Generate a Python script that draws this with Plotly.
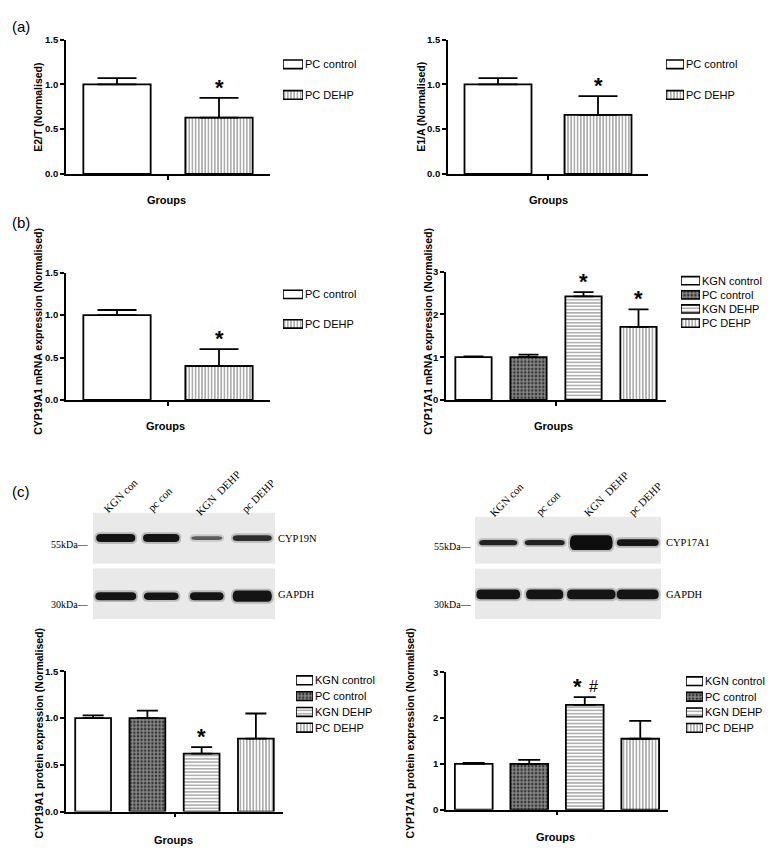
import plotly.graph_objects as go

W, H = 775, 855


def fx(px):
    return px / W


def fy(py):
    return 1 - py / H


# ---------------- data ----------------
groups2 = ["PC control", "PC DEHP"]
groups4 = ["KGN control", "PC control", "KGN DEHP", "PC DEHP"]

e2t_mean = [1.00, 0.63]
e2t_sem = [0.07, 0.22]
e2t_marks = ["", "*"]

e1a_mean = [1.00, 0.66]
e1a_sem = [0.07, 0.21]
e1a_marks = ["", "*"]

cyp19_mrna_mean = [1.00, 0.40]
cyp19_mrna_sem = [0.06, 0.20]
cyp19_mrna_marks = ["", "*"]

cyp17_mrna_mean = [1.00, 1.00, 2.42, 1.71]
cyp17_mrna_sem = [0.02, 0.06, 0.10, 0.41]
cyp17_mrna_marks = ["", "", "*", "*"]

cyp19_prot_mean = [1.00, 1.00, 0.62, 0.78]
cyp19_prot_sem = [0.03, 0.08, 0.07, 0.27]
cyp19_prot_marks = ["", "", "*", ""]

cyp17_prot_mean = [1.00, 1.00, 2.29, 1.55]
cyp17_prot_sem = [0.02, 0.09, 0.17, 0.39]
cyp17_prot_marks = ["", "", "*#", ""]

y_ticks_15 = [0.0, 0.5, 1.0, 1.5]
y_ticks_3 = [0, 1, 2, 3]

# western blot lanes and band appearance
blot_lanes = [1, 2, 3, 4]
lane_labels = ["KGN con", "pc con", "KGN  DEHP", "pc DEHP"]
cyp19n_halfwidth = [0.43, 0.40, 0.34, 0.43]
cyp19n_thickness = [0.15, 0.15, 0.07, 0.11]
cyp19n_shade = ["#141414", "#141414", "#5c5c5c", "#2c2c2c"]
gapdh_l_halfwidth = [0.45, 0.38, 0.37, 0.43]
gapdh_l_thickness = [0.15, 0.14, 0.15, 0.21]
cyp17_halfwidth = [0.41, 0.43, 0.46, 0.45]
cyp17_thickness = [0.10, 0.10, 0.29, 0.135]
cyp17_shade = ["#222222", "#222222", "#0e0e0e", "#161616"]
gapdh_r_halfwidth = [0.47, 0.40, 0.52, 0.45]
gapdh_r_thickness = [0.19, 0.19, 0.19, 0.19]

# ---------------- styles ----------------
FONT = "Arial, Liberation Sans, sans-serif"
SERIF = "Times New Roman, Liberation Serif, serif"

PAT = {
    "open": dict(shape="", fg="black", bg="white", size=4, sol=0.3),
    "check": dict(shape=".", fg="white", bg="#111111", size=3.6, sol=0.72),
    "hline": dict(shape="-", fg="black", bg="white", size=3.3, sol=0.42),
    "vline": dict(shape="|", fg="black", bg="white", size=3.2, sol=0.45),
}
styles2 = ["open", "vline"]
styles4 = ["open", "check", "hline", "vline"]


def marker_for(styles, lw=1.8):
    return dict(
        color=[PAT[s]["bg"] for s in styles],
        line=dict(color="black", width=lw),
        pattern=dict(
            shape=[PAT[s]["shape"] for s in styles],
            fgcolor=[PAT[s]["fg"] for s in styles],
            size=[PAT[s]["size"] for s in styles],
            solidity=[PAT[s]["sol"] for s in styles],
            fillmode="overlay",
        ),
    )


fig = go.Figure()
layout = dict(
    width=W, height=H, margin=dict(l=0, r=0, t=0, b=0),
    paper_bgcolor="white", plot_bgcolor="white", showlegend=False,
)
annotations = []
shapes = []
counter = [0]


def new_ax():
    counter[0] += 1
    return counter[0]


def ann(text, x, y, size, xanchor="center", yanchor="middle", angle=0,
        family=FONT, bold=False, **kw):
    annotations.append(dict(
        text=text, x=fx(x), y=fy(y), xref="paper", yref="paper",
        xanchor=xanchor, yanchor=yanchor, textangle=angle, showarrow=False,
        font=dict(family=family, size=size, color="black",
                  weight="bold" if bold else "normal"), **kw))


def add_bar_panel(cats, styles, mean, sem, marks, xd, yd, ymax, ticks, fmt,
                  bw, capw, title, title_xy, groups_xy, leg_xd, leg_yd, leg_thick):
    k = new_ax()
    n = len(cats)
    xs = list(range(n))
    fig.add_trace(go.Bar(
        x=xs, y=mean, width=bw, marker=marker_for(styles),
        error_y=dict(type="data", array=sem, arrayminus=[0] * n, symmetric=False,
                     color="black", thickness=1.8, width=capw),
        xaxis=f"x{k}", yaxis=f"y{k}", hoverinfo="skip", showlegend=False,
    ))
    layout[f"xaxis{k}"] = dict(
        domain=[fx(xd[0]), fx(xd[1])], anchor=f"y{k}", range=[-0.5, n - 0.5],
        showline=True, linecolor="black", linewidth=1.6, ticks="outside",
        tickvals=[(n - 1) / 2], ticktext=[""], ticklen=4, tickwidth=1.5,
        tickcolor="black", showgrid=False, zeroline=False, fixedrange=True)
    layout[f"yaxis{k}"] = dict(
        domain=[fy(yd[1]), fy(yd[0])], anchor=f"x{k}", range=[0, ymax],
        showline=True, linecolor="black", linewidth=1.6, ticks="outside",
        tickvals=ticks, tickformat=fmt, ticklen=4, tickwidth=1.5,
        tickcolor="black", showgrid=False, zeroline=False, fixedrange=True,
        tickfont=dict(family=FONT, size=9.5, color="black", weight="bold"))
    for i, m in enumerate(marks):
        if not m:
            continue
        top = mean[i] + sem[i]
        base = dict(xref=f"x{k}", yref=f"y{k}", y=top, showarrow=False,
                    yanchor="bottom", xanchor="center")
        if m == "*":
            annotations.append(dict(base, x=xs[i], text="*", yshift=-4,
                                    font=dict(family=FONT, size=22, color="black",
                                              weight="bold")))
        else:
            annotations.append(dict(base, x=xs[i], text="*", yshift=-4, xshift=-7,
                                    font=dict(family=FONT, size=22, color="black",
                                              weight="bold")))
            annotations.append(dict(base, x=xs[i], text="#", yshift=0, xshift=9,
                                    font=dict(family=FONT, size=16, color="black")))
    ann(title, title_xy[0], title_xy[1], 10.5, angle=-90, bold=True)
    ann("Groups", groups_xy[0], groups_xy[1], 11, bold=True)

    # legend drawn as a tiny patterned bar subplot
    j = new_ax()
    fig.add_trace(go.Bar(
        y=cats, x=[1] * n, orientation="h", width=leg_thick,
        marker=marker_for(styles, lw=1.6),
        xaxis=f"x{j}", yaxis=f"y{j}",
        hoverinfo="skip", showlegend=False))
    layout[f"xaxis{j}"] = dict(domain=[fx(leg_xd[0]), fx(leg_xd[1])], anchor=f"y{j}",
                               range=[0, 1], visible=False, fixedrange=True)
    layout[f"yaxis{j}"] = dict(domain=[fy(leg_yd[1]), fy(leg_yd[0])], anchor=f"x{j}",
                               type="category", autorange="reversed", side="right",
                               showline=False, ticks="", showgrid=False,
                               zeroline=False, fixedrange=True, ticklabelstandoff=1,
                               tickfont=dict(family=FONT, size=11, color="black"))


add_bar_panel(groups2, styles2, e2t_mean, e2t_sem, e2t_marks,
              (58, 262), (26, 162), 1.5, y_ticks_15, ".1f", 0.66, 19.5,
              "E2/T (Normalised)", (30, 95), (158, 188),
              (275, 295), (35.5, 97.5), 0.28)
add_bar_panel(groups2, styles2, e1a_mean, e1a_sem, e1a_marks,
              (440, 640), (26, 162), 1.5, y_ticks_15, ".1f", 0.67, 19.5,
              "E1/A (Normalised)", (413, 94), (540, 188),
              (658, 676), (35.5, 97.5), 0.28)
add_bar_panel(groups2, styles2, cyp19_mrna_mean, cyp19_mrna_sem, cyp19_mrna_marks,
              (58, 262), (262, 391), 1.5, y_ticks_15, ".1f", 0.66, 19.5,
              "CYP19A1 mRNA expression (Normalised)", (30, 322), (157, 417),
              (275, 295), (269, 329), 0.28)
add_bar_panel(groups4, styles4, cyp17_mrna_mean, cyp17_mrna_sem, cyp17_mrna_marks,
              (438, 658), (261, 391), 3, y_ticks_3, "d", 0.66, 10,
              "CYP17A1 mRNA expression (Normalised)", (420, 322), (545, 417),
              (673, 692), (263, 320.3), 0.58)
add_bar_panel(groups4, styles4, cyp19_prot_mean, cyp19_prot_sem, cyp19_prot_marks,
              (58, 275), (666, 808), 1.5, y_ticks_15, ".1f", 0.66, 10.5,
              "CYP19A1 protein expression (Normalised)", (31, 729), (165, 837),
              (288, 305), (667, 731), 0.56)
add_bar_panel(groups4, styles4, cyp17_prot_mean, cyp17_prot_sem, cyp17_prot_marks,
              (438, 660), (667, 806), 3, y_ticks_3, "d", 0.68, 11,
              "CYP17A1 protein expression (Normalised)", (402, 729), (547, 834),
              (678, 695), (668, 731), 0.56)


# ---------------- western blots ----------------
def band_path(cx, hw, th, cy, r=0.08):
    y0, y1 = cy - th / 2, cy + th / 2
    return (f"M {cx - hw + r},{y0} L {cx + hw - r},{y0} Q {cx + hw},{y0} {cx + hw},{cy} "
            f"Q {cx + hw},{y1} {cx + hw - r},{y1} L {cx - hw + r},{y1} "
            f"Q {cx - hw},{y1} {cx - hw},{cy} Q {cx - hw},{y0} {cx - hw + r},{y0} Z")


def add_blot(xd, yd, top_mem, bot_mem, rows):
    k = new_ax()
    fig.add_trace(go.Scatter(x=blot_lanes, y=[None] * 4, mode="markers",
                             xaxis=f"x{k}", yaxis=f"y{k}", hoverinfo="skip",
                             showlegend=False))
    layout[f"xaxis{k}"] = dict(domain=[fx(xd[0]), fx(xd[1])], anchor=f"y{k}",
                               range=[0.5, 4.5], visible=False, fixedrange=True)
    layout[f"yaxis{k}"] = dict(domain=[fy(yd[1]), fy(yd[0])], anchor=f"x{k}",
                               range=[0, 2], visible=False, fixedrange=True)
    for (m0, m1) in (top_mem, bot_mem):
        shapes.append(dict(type="rect", xref=f"x{k}", yref=f"y{k}", x0=0.5, x1=4.5,
                           y0=m0, y1=m1, fillcolor="#e9e9e9", line=dict(width=0),
                           layer="below"))
    for cy, hws, ths, shades in rows:
        for lane, hw, th, col in zip(blot_lanes, hws, ths, shades):
            shapes.append(dict(type="path", xref=f"x{k}", yref=f"y{k}",
                               path=band_path(lane, hw + 0.04, th + 0.07, cy, 0.12),
                               fillcolor=col, opacity=0.22, line=dict(width=0)))
            shapes.append(dict(type="path", xref=f"x{k}", yref=f"y{k}",
                               path=band_path(lane, hw, th, cy, 0.1), fillcolor=col,
                               line=dict(width=0)))


add_blot((85, 267), (505, 613), (1.04, 2.0), (0.0, 0.95),
         [(1.52, cyp19n_halfwidth, cyp19n_thickness, cyp19n_shade),
          (0.43, gapdh_l_halfwidth, gapdh_l_thickness, ["#141414"] * 4)])
add_blot((467, 653), (509, 613), (1.08, 2.0), (0.0, 0.98),
         [(1.49, cyp17_halfwidth, cyp17_thickness, cyp17_shade),
          (0.48, gapdh_r_halfwidth, gapdh_r_thickness, ["#141414"] * 4)])

for (x, y), t in zip([(112, 488), (152, 491), (210, 485), (250, 488)], lane_labels):
    ann(t, x, y, 11, angle=-45, family=SERIF)
for (x, y), t in zip([(498, 492), (540, 495), (598, 486), (637, 491)], lane_labels):
    ann(t, x, y, 11, angle=-45, family=SERIF)

ann("CYP19N", 268, 531, 10.5, xanchor="left", family=SERIF)
ann("GAPDH", 268, 588, 10.5, xanchor="left", family=SERIF)
ann("CYP17A1", 656, 535, 10.5, xanchor="left", family=SERIF)
ann("GAPDH", 656, 588, 10.5, xanchor="left", family=SERIF)
ann("55kDa\u2014", 83, 537, 10, xanchor="right", family=SERIF)
ann("30kDa\u2014", 83, 598, 10, xanchor="right", family=SERIF)
ann("55kDa\u2014", 466, 539, 10, xanchor="right", family=SERIF)
ann("30kDa\u2014", 466, 598, 10, xanchor="right", family=SERIF)

ann("(a)", 2, 12.5, 15, xanchor="left")
ann("(b)", 2, 211, 15, xanchor="left")
ann("(c)", 2, 484, 15, xanchor="left")

layout["annotations"] = annotations
layout["shapes"] = shapes
fig.update_layout(**layout)
fig.write_html("out.html")
